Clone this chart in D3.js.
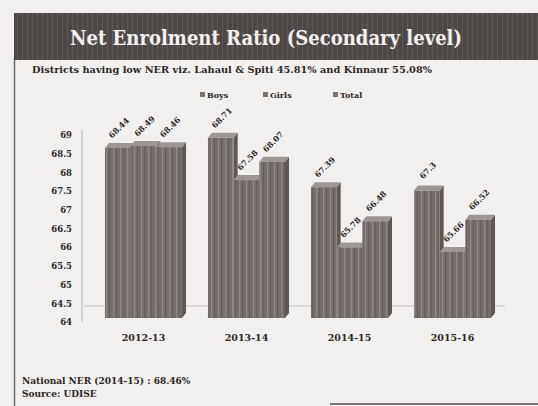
<!DOCTYPE html>
<html><head><meta charset="utf-8">
<script src="https://cdn.jsdelivr.net/npm/d3@7"></script>
<style>body{margin:0;background:#f1efed;overflow:hidden}</style></head>
<body><svg id="c" width="538" height="406"></svg>
<script>
const title = "Net Enrolment Ratio (Secondary level)";
const subtitle = "Districts having low NER viz. Lahaul & Spiti 45.81% and Kinnaur 55.08%";
const categories = ["2012-13", "2013-14", "2014-15", "2015-16"];
const seriesNames = ["Boys", "Girls", "Total"];
const boys = [68.44, 68.71, 67.39, 67.3];
const girls = [68.49, 67.58, 65.78, 65.66];
const total = [68.46, 68.07, 66.48, 66.52];
const yTicks = [64, 64.5, 65, 65.5, 66, 66.5, 67, 67.5, 68, 68.5, 69];
const yTickLabels = ["64", "64.5", "65", "65.5", "66", "66.5", "67", "67.5", "68", "68.5", "69"];
const notes = ["National NER (2014-15) : 68.46%", "Source: UDISE"];

const seriesValues = [boys, girls, total];
const svg = d3.select("#c");
const serif = "'DejaVu Serif','Liberation Serif',serif";
const ink = "#2b2725";

const defs = svg.append("defs");
const pat = defs.append("pattern").attr("id", "stripe").attr("patternUnits", "userSpaceOnUse")
  .attr("width", 7).attr("height", 10);
pat.append("rect").attr("width", 7).attr("height", 10).attr("fill", "#746d6a");
pat.append("rect").attr("x", 1).attr("width", 1.2).attr("height", 10).attr("fill", "#908986");
pat.append("rect").attr("x", 4).attr("width", 0.8).attr("height", 10).attr("fill", "#615a57");
const tpat = defs.append("pattern").attr("id", "tstripe").attr("patternUnits", "userSpaceOnUse")
  .attr("width", 5).attr("height", 10);
tpat.append("rect").attr("width", 5).attr("height", 10).attr("fill", "#4d4846");
tpat.append("rect").attr("x", 2).attr("width", 1).attr("height", 10).attr("fill", "#5e5856");

svg.append("rect").attr("width", 538).attr("height", 406).attr("fill", "#f2f0ee");
svg.append("line").attr("x1", 14.5).attr("x2", 14.5).attr("y1", 58).attr("y2", 406)
  .attr("stroke", "#6b6563").attr("stroke-width", 1.5);
svg.append("line").attr("x1", 330).attr("x2", 538).attr("y1", 404).attr("y2", 404)
  .attr("stroke", "#7a7472").attr("stroke-width", 2);
svg.append("rect").attr("x", 14).attr("y", 13).attr("width", 524).attr("height", 47).attr("fill", "url(#tstripe)");
svg.append("text").attr("x", 266).attr("y", 45).attr("text-anchor", "middle")
  .attr("font-family", serif).attr("font-weight", "bold").attr("font-size", 21)
  .attr("fill", "#f4f2f0").attr("textLength", 392).attr("lengthAdjust", "spacingAndGlyphs").text(title);
svg.append("text").attr("x", 32).attr("y", 73)
  .attr("font-family", serif).attr("font-weight", "bold").attr("font-size", 9.5)
  .attr("fill", ink).attr("textLength", 400).attr("lengthAdjust", "spacingAndGlyphs").text(subtitle);

const x = d3.scaleBand().domain(categories).range([92, 504]).paddingInner(0.252).paddingOuter(0.126);
const xs = d3.scaleBand().domain(seriesNames).range([0, x.bandwidth()]).padding(0);
const y = d3.scaleLinear().domain([64, 69]).range([322, 135]);

const yAxis = d3.axisLeft(y).tickValues(yTicks).tickFormat((d, i) => yTickLabels[i]).tickSize(0).tickPadding(10);
const gy = svg.append("g").attr("transform", "translate(82,0)").call(yAxis);
gy.select(".domain").attr("stroke", "#b9b4b1").attr("d", "M0,130V322");
gy.selectAll("text").attr("font-family", serif).attr("font-weight", "bold").attr("font-size", 8.5)
  .attr("fill", ink);

svg.append("line").attr("x1", 84).attr("x2", 505).attr("y1", y(64) - 16).attr("y2", y(64) - 16)
  .attr("stroke", "#c4bfbc").attr("stroke-width", 1);

const xAxis = d3.axisBottom(x).tickSize(0).tickPadding(0);
const gx = svg.append("g").attr("transform", "translate(0,334)").call(xAxis);
gx.select(".domain").remove();
gx.selectAll("text").attr("font-family", serif).attr("font-weight", "bold").attr("font-size", 9.5)
  .attr("fill", ink);

const dx = 4, dy = 5;
const base = y(64) - 4;
categories.forEach((c, ci) => {
  seriesNames.forEach((s, si) => {
    const v = seriesValues[si][ci];
    const x0 = x(c) + xs(s), x1 = x0 + xs.bandwidth();
    const top = y(v) - 8;
    const g = svg.append("g");
    g.append("polygon").attr("points", `${x1},${top} ${x1 + dx},${top - dy} ${x1 + dx},${base - dy} ${x1},${base}`)
      .attr("fill", "#5e5754");
    g.append("polygon").attr("points", `${x0},${top} ${x0 + dx},${top - dy} ${x1 + dx},${top - dy} ${x1},${top}`)
      .attr("fill", "#9d9693");
    g.append("rect").attr("x", x0).attr("y", top).attr("width", x1 - x0).attr("height", base - top)
      .attr("fill", "url(#stripe)");
  });
});
categories.forEach((c, ci) => {
  seriesNames.forEach((s, si) => {
    const v = seriesValues[si][ci];
    const cx = x(c) + xs(s) + xs.bandwidth() / 2 + 3;
    const cy = y(v) - 26;
    svg.append("text").attr("transform", `translate(${cx},${cy}) rotate(-45)`).attr("text-anchor", "middle")
      .attr("font-family", serif).attr("font-weight", "bold").attr("font-size", 8).attr("fill", ink)
      .text(String(v));
  });
});

const legX = [200, 263, 333];
seriesNames.forEach((s, i) => {
  svg.append("rect").attr("x", legX[i]).attr("y", 92).attr("width", 5).attr("height", 5).attr("fill", "#7a7370");
  svg.append("text").attr("x", legX[i] + 7).attr("y", 97.5).attr("font-family", serif).attr("font-weight", "bold")
    .attr("font-size", 8).attr("fill", ink).text(s);
});

notes.forEach((n, i) => {
  svg.append("text").attr("x", 22).attr("y", 384 + i * 13).attr("font-family", serif).attr("font-weight", "bold")
    .attr("font-size", 9).attr("fill", ink).text(n);
});
</script></body></html>
